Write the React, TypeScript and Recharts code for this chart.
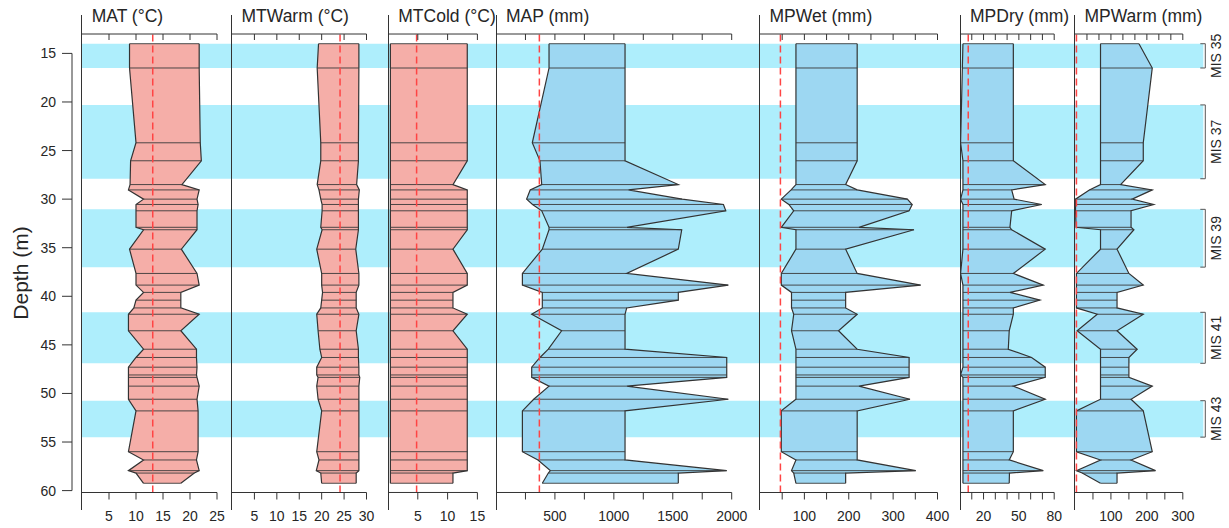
import React from 'react';
import { Area, ComposedChart, ReferenceArea, ReferenceLine, XAxis, YAxis } from 'recharts';

// sample depths (m), top to bottom
const depths = [
  14.0, 16.5, 24.2, 26.05, 28.5, 29.05, 30.0, 30.55, 31.2, 32.9, 33.15, 35.15, 37.65, 38.85, 39.6, 40.4,
  41.2, 41.85, 43.55, 45.45, 46.3, 47.3, 48.1, 48.35, 49.25, 50.6, 51.8, 56.0, 56.85, 57.95, 58.2, 59.25,
];

// coexistence intervals (lower / upper bound) per sample
const matMin = [8.8, 8.8, 10.0, 9.0, 8.9, 8.6, 11.4, 10.0, 10.0, 10.0, 11.4, 8.8, 10.0, 10.0, 11.4, 10.0, 9.6, 8.6, 8.6, 11.4, 10.0, 8.6, 8.6, 8.6, 8.6, 8.6, 10.0, 8.6, 11.4, 8.6, 10.0, 11.4];
const matMax = [21.7, 21.7, 21.9, 22.1, 18.5, 21.7, 21.3, 21.5, 21.3, 21.3, 21.3, 18.4, 21.3, 21.7, 18.3, 18.3, 18.3, 21.7, 18.3, 21.2, 21.2, 21.3, 21.2, 21.3, 21.7, 21.3, 21.5, 21.5, 21.2, 21.7, 20.8, 18.3];

const mtwMin = [19.3, 19.0, 19.8, 19.8, 19.0, 19.4, 19.8, 20.1, 20.1, 19.8, 20.1, 18.9, 20.0, 20.0, 20.2, 20.0, 19.8, 18.9, 19.2, 19.6, 20.0, 18.9, 18.9, 19.2, 18.9, 19.2, 20.0, 18.9, 19.4, 18.8, 19.8, 20.0];
const mtwMax = [28.3, 28.3, 28.2, 28.2, 27.8, 28.4, 28.2, 28.2, 28.2, 28.2, 28.2, 27.6, 28.3, 28.3, 27.7, 27.7, 27.7, 28.3, 27.7, 28.2, 28.2, 28.3, 28.3, 28.5, 28.3, 28.3, 28.3, 28.3, 28.3, 28.3, 27.7, 27.7];

const mtcMin = [0.4, 0.4, 0.4, 0.4, 0.4, 0.4, 0.4, 0.4, 0.4, 0.4, 0.4, 0.4, 0.4, 0.4, 0.4, 0.4, 0.4, 0.4, 0.4, 0.4, 0.4, 0.4, 0.4, 0.4, 0.4, 0.4, 0.4, 0.4, 0.4, 0.4, 0.4, 0.4];
const mtcMax = [13.3, 13.3, 13.3, 13.3, 10.9, 13.3, 13.3, 13.3, 13.3, 13.3, 13.3, 10.9, 13.3, 13.3, 10.9, 10.9, 10.9, 13.3, 10.9, 13.3, 13.3, 13.3, 13.3, 13.3, 13.3, 13.3, 13.3, 13.3, 13.3, 13.3, 10.9, 10.9];

const mapMin = [450, 450, 308, 373, 388, 290, 260, 310, 388, 450, 450, 393, 224, 224, 393, 393, 393, 303, 557, 444, 373, 303, 303, 303, 450, 320, 224, 224, 356, 461, 444, 393];
const mapMax = [1095, 1095, 1095, 1095, 1547, 1123, 1580, 1930, 1950, 1109, 1576, 1547, 1109, 1971, 1547, 1547, 1109, 1095, 1095, 1095, 1958, 1958, 1958, 1958, 1109, 1971, 1095, 1095, 1095, 1958, 1547, 1547];

const mpwetMin = [81, 81, 81, 81, 81, 70, 48, 65, 76, 48, 81, 81, 48, 48, 71, 71, 71, 76, 71, 81, 81, 81, 81, 81, 81, 81, 48, 48, 81, 71, 76, 81];
const mpwetMax = [219, 219, 219, 219, 193, 219, 332, 343, 336, 223, 347, 193, 219, 362, 193, 193, 193, 219, 177, 219, 336, 336, 336, 336, 223, 338, 219, 219, 219, 351, 193, 193];

const mpdryMin = [2.5, 2.0, 0.5, 2.5, 2.5, 2.5, 0.5, 2.5, 2.5, 2.5, 2.5, 2.5, 0.5, 2.5, 2.5, 2.5, 2.5, 2.5, 2.5, 2.5, 2.5, 2.5, 0.5, 2.5, 2.5, 2.5, 2.5, 2.5, 2.5, 2.5, 2.5, 2.5];
const mpdryMax = [45.3, 45.3, 45.3, 45.3, 72.4, 43.9, 46, 69.4, 43.9, 42.4, 43.9, 72.4, 45.3, 70.7, 42.4, 67.9, 45.3, 45.3, 41.8, 41, 60.8, 72.4, 72.4, 72.4, 45.3, 72.4, 45.3, 45.3, 41.8, 70.7, 42, 41.8];

const mpwarmMin = [71, 71, 71, 71, 71, 40, 1.5, 1.5, 1.5, 3, 71, 71, 4, 4, 4, 4, 4, 62, 6, 71, 71, 71, 71, 71, 71, 71, 4, 4, 71, 4, 20, 71];
const mpwarmMax = [178, 215, 190, 190, 127, 215, 159, 219, 156, 156, 164, 117, 150, 190, 117, 117, 117, 190, 117, 173, 150, 150, 150, 150, 215, 156, 190, 215, 156, 224, 117, 117];

// modern climate values (red dashed lines)
const modernValues = [13.1, 24.1, 4.8, 368, 46, 7, 4];

const titles = ['MAT (°C)', 'MTWarm (°C)', 'MTCold (°C)', 'MAP (mm)', 'MPWet (mm)', 'MPDry (mm)', 'MPWarm (mm)'];
const axisMax = [25, 30, 15, 2000, 400, 80, 300];

const matTicks = [5, 10, 15, 20, 25];
const mtwTicks = [5, 10, 15, 20, 25, 30];
const mtcTicks = [5, 10, 15];
const mapTicks = [250, 500, 750, 1000, 1250, 1500, 1750, 2000];
const mapLabels = [500, 1000, 1500, 2000];
const mpwetTicks = [50, 100, 150, 200, 250, 300, 350, 400];
const mpwetLabels = [100, 200, 300, 400];
const mpdryTicks = [10, 20, 30, 40, 50, 60, 70, 80];
const mpdryLabels = [20, 50, 80];
const mpwarmTicks = [50, 100, 150, 200, 250, 300];
const mpwarmTopTicks = [33.3, 66.7, 100, 133.3, 166.7, 200, 233.3, 266.7, 300];
const mpwarmLabels = [100, 200, 300];

const depthTicks = [15, 20, 25, 30, 35, 40, 45, 50, 55, 60];

// marine isotope stages (interglacials)
const misNames = ['MIS 35', 'MIS 37', 'MIS 39', 'MIS 41', 'MIS 43'];
const misTop = [14.0, 20.3, 31.05, 41.65, 50.75];
const misBottom = [16.5, 27.9, 37.0, 46.9, 54.5];

const W = 1229;
const H = 528;
const PLOT_TOP = 34;
const PLOT_BOTTOM = 492.5;
const DEPTH_DOMAIN: [number, number] = [13, 60.2];
const FONT = '"Liberation Sans", Arial, sans-serif';
const INK = '#262626';
const BAND = '#aeeefc';
const RED_FILL = '#f5aea8';
const BLUE_FILL = '#9dd7f2';
const MODERN = '#ff4444';
const PAD = 22;
const X_AXIS_H = 30;

const panelX: [number, number][] = [
  [81.7, 216.7],
  [231.5, 366],
  [388.3, 477.7],
  [496, 731.7],
  [759.5, 937],
  [960, 1054.2],
  [1074.5, 1182.3],
];

const panels = [
  { min: matMin, max: matMax, ticks: matTicks, top: matTicks, labels: matTicks, fill: RED_FILL },
  { min: mtwMin, max: mtwMax, ticks: mtwTicks, top: mtwTicks, labels: mtwTicks, fill: RED_FILL },
  { min: mtcMin, max: mtcMax, ticks: mtcTicks, top: mtcTicks, labels: mtcTicks, fill: RED_FILL },
  { min: mapMin, max: mapMax, ticks: mapTicks, top: mapTicks, labels: mapLabels, fill: BLUE_FILL },
  { min: mpwetMin, max: mpwetMax, ticks: mpwetTicks, top: mpwetTicks, labels: mpwetLabels, fill: BLUE_FILL },
  { min: mpdryMin, max: mpdryMax, ticks: mpdryTicks, top: mpdryTicks, labels: mpdryLabels, fill: BLUE_FILL },
  { min: mpwarmMin, max: mpwarmMax, ticks: mpwarmTicks, top: mpwarmTopTicks, labels: mpwarmLabels, fill: BLUE_FILL },
];

function MisBracket(props: any) {
  const { viewBox, value } = props;
  if (!viewBox) return null;
  const { x, y, width, height } = viewBox;
  const bx = x + width + 2;
  const cy = y + height / 2;
  return (
    <g>
      <polyline
        points={`${bx - 5},${y} ${bx},${y} ${bx},${y + height} ${bx - 5},${y + height}`}
        fill="none"
        stroke="#555"
        strokeWidth={1}
      />
      <text
        x={bx + 11}
        y={cy}
        transform={`rotate(-90 ${bx + 11} ${cy})`}
        textAnchor="middle"
        dominantBaseline="central"
        fontSize={14}
        fontFamily={FONT}
        fill={INK}
      >
        {value}
      </text>
    </g>
  );
}

function DepthLabel(props: any) {
  const { viewBox } = props;
  if (!viewBox) return null;
  const cx = viewBox.x + 20;
  const cy = viewBox.y + viewBox.height / 2 + 1;
  return (
    <text
      x={cx}
      y={cy}
      transform={`rotate(-90 ${cx} ${cy})`}
      textAnchor="middle"
      dominantBaseline="central"
      fontSize={21}
      fontFamily={FONT}
      fill={INK}
    >
      Depth (m)
    </text>
  );
}

function Panel({ index }: { index: number }) {
  const p = panels[index];
  const [x0, x1] = panelX[index];
  const data = depths.map((d, i) => ({ depth: d, range: [p.min[i], p.max[i]] }));
  const width = x1 - x0 + PAD * 2;
  const tickStyle = { fill: INK, fontSize: 14, fontFamily: FONT };
  return (
    <>
      <div
        style={{ position: 'absolute', left: x0 - 0.5, top: 15, width: 1.2, height: 495, background: '#333' }}
      />
      <div
        style={{
          position: 'absolute',
          left: x0 + 10,
          top: 6,
          fontFamily: FONT,
          fontSize: 17.5,
          lineHeight: '20px',
          color: INK,
          whiteSpace: 'nowrap',
        }}
      >
        {titles[index]}
      </div>
      <div style={{ position: 'absolute', left: x0 - PAD, top: 0 }}>
        <ComposedChart
          layout="vertical"
          width={width}
          height={H}
          data={data}
          margin={{ top: PLOT_TOP, right: PAD, bottom: H - PLOT_BOTTOM - X_AXIS_H, left: PAD }}
        >
          <XAxis
            type="number"
            domain={[0, axisMax[index]]}
            ticks={p.ticks}
            interval={0}
            allowDataOverflow
            height={X_AXIS_H}
            tickSize={7}
            tickMargin={12}
            stroke="#333"
            tick={tickStyle}
            tickFormatter={(v: number) => (p.labels.includes(v) ? String(v) : '')}
          />
          <XAxis
            xAxisId="top"
            orientation="top"
            mirror
            type="number"
            domain={[0, axisMax[index]]}
            ticks={p.top}
            interval={0}
            allowDataOverflow
            tickSize={6}
            stroke="#333"
            tick={tickStyle}
            tickFormatter={() => ''}
          />
          <YAxis type="number" dataKey="depth" domain={DEPTH_DOMAIN} hide allowDataOverflow />
          <Area
            dataKey="range"
            type="linear"
            fill={p.fill}
            fillOpacity={1}
            stroke="#333"
            strokeWidth={1.2}
            dot={false}
            activeDot={false}
            isAnimationActive={false}
          />
          {data.map((row) => (
            <ReferenceLine
              key={row.depth}
              segment={[
                { x: row.range[0], y: row.depth },
                { x: row.range[1], y: row.depth },
              ]}
              stroke="#3a3a3a"
              strokeWidth={0.9}
            />
          ))}
          <ReferenceLine x={modernValues[index]} stroke={MODERN} strokeDasharray="7 4" strokeWidth={1.5} />
        </ComposedChart>
      </div>
    </>
  );
}

export default function App() {
  const depthRows = depths.map((d) => ({ depth: d }));
  const bandLeft = panelX[0][0];
  const bandRight = 1203;
  return (
    <div style={{ position: 'absolute', left: 0, top: 0, width: W, height: H, background: '#fff', overflow: 'hidden' }}>
      <div style={{ position: 'absolute', left: bandLeft, top: 0 }}>
        <ComposedChart
          width={W - bandLeft}
          height={H}
          data={depthRows}
          margin={{ top: PLOT_TOP, right: W - bandRight, bottom: H - PLOT_BOTTOM, left: 0 }}
        >
          <XAxis type="number" hide domain={[0, 1]} allowDataOverflow />
          <YAxis type="number" dataKey="depth" hide domain={DEPTH_DOMAIN} reversed allowDataOverflow />
          {misNames.map((name, i) => (
            <ReferenceArea
              key={name}
              y1={misTop[i]}
              y2={misBottom[i]}
              fill={BAND}
              fillOpacity={1}
              stroke="none"
              label={{ value: name, content: MisBracket }}
            />
          ))}
        </ComposedChart>
      </div>
      <div style={{ position: 'absolute', left: 0, top: 0 }}>
        <ComposedChart
          width={82}
          height={H}
          data={depthRows}
          margin={{ top: 53.4, right: 10, bottom: 37.4, left: 0 }}
        >
          <XAxis type="number" hide domain={[0, 1]} allowDataOverflow />
          <YAxis
            type="number"
            dataKey="depth"
            domain={[15, 60]}
            ticks={depthTicks}
            interval={0}
            reversed
            allowDataOverflow
            width={72}
            tickSize={10}
            tickMargin={6}
            stroke="#333"
            tick={{ fill: INK, fontSize: 14, fontFamily: FONT }}
            label={{ value: 'Depth (m)', content: DepthLabel }}
          />
        </ComposedChart>
      </div>
      {panels.map((_, i) => (
        <Panel key={titles[i]} index={i} />
      ))}
    </div>
  );
}
